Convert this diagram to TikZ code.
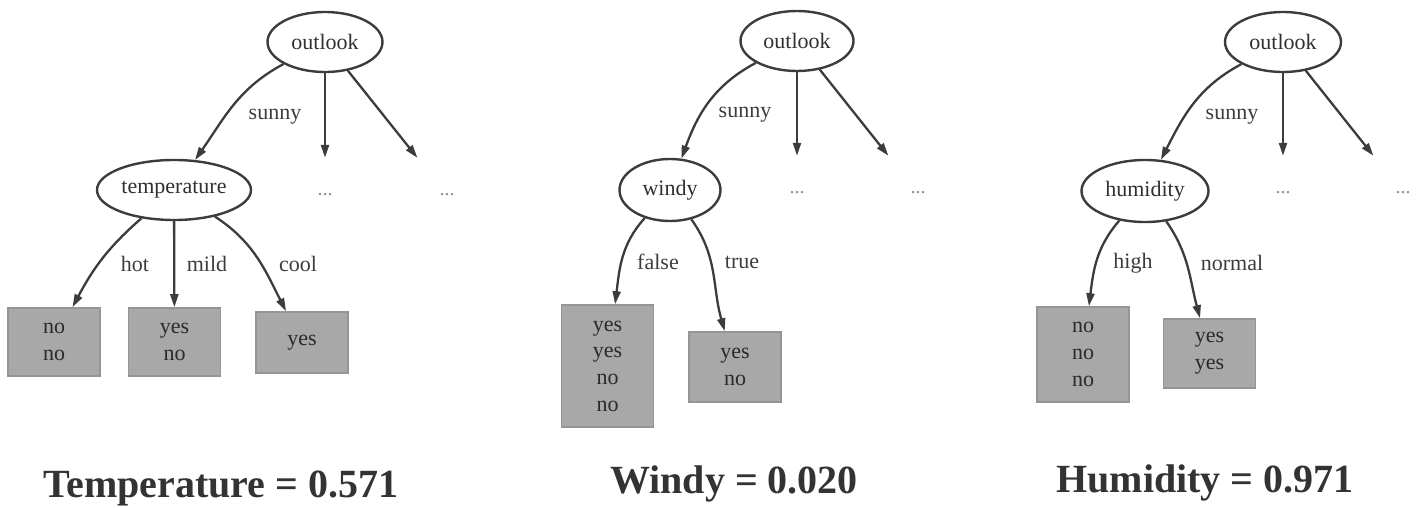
\documentclass[tikz,border=0pt]{standalone}
\usepackage{fontspec}
\setmainfont{Liberation Serif}
\usetikzlibrary{shapes.geometric,arrows.meta}
\definecolor{ink}{HTML}{3C3C3C}
\definecolor{leafgray}{HTML}{A8A8A8}
\definecolor{leafedge}{HTML}{959595}
\definecolor{leaftext}{HTML}{2A2A2A}
\definecolor{dotgray}{HTML}{8C8C8C}
\definecolor{scoretext}{HTML}{333333}
\tikzset{
  attr/.style={ellipse, draw=ink, line width=2.4pt, inner sep=0pt, minimum height=60pt, text=ink!80!black, font=\fontsize{22}{26.7}\selectfont},
  leaf/.style={rectangle, draw=leafedge, fill=leafgray, line width=1.6pt, minimum width=92pt, inner sep=2pt, align=center, text=leaftext, font=\fontsize{22}{26.7}\selectfont},
  more/.style={minimum width=64pt, minimum height=74pt, inner sep=0pt, text=dotgray, font=\fontsize{20}{24}\selectfont},
  branch/.style={draw=ink, line width=2.3pt, -{Triangle[length=13pt,width=8pt]}},
  lab/.style={text=ink, font=\fontsize{22}{26.7}\selectfont},
  score/.style={anchor=base, text=scoretext, font=\bfseries\fontsize{40}{42}\selectfont},
}

\begin{document}
\begin{tikzpicture}[x=1pt,y=1pt]
  \useasboundingbox (0,0) rectangle (1425,-508);

  % temperature split
  \node[attr, minimum width=115pt] (outA) at (325,-42) {outlook};
  \node[attr, minimum width=154pt] (tempA) at (174,-190) {temperature};
  \node[more] (moreA1) at (325,-195) {...};
  \node[more] (moreA2) at (447,-195) {...};
  \node[leaf, minimum height=68pt] (hotA) at (54,-342) {no\\no};
  \node[leaf, minimum height=68pt] (mildA) at (174.5,-342) {yes\\no};
  \node[leaf, minimum height=61pt] (coolA) at (302,-342.5) {yes};

  \draw[branch] (outA) to[out=208,in=55] (tempA);
  \draw[branch] (outA) -- (moreA1);
  \draw[branch] (outA) -- (moreA2);
  \draw[branch] (tempA) to[out=221,in=62] (hotA);
  \draw[branch] (tempA) -- (mildA);
  \draw[branch] (tempA) to[out=-33,in=117] (coolA);

  \node[lab] (sunA) at (275,-117) {sunny};
  \node[lab] (hotlab) at (135,-264) {hot};
  \node[lab] (mildlab) at (207,-264) {mild};
  \node[lab] (coollab) at (298,-264) {cool};

  % windy split
  \node[attr, minimum width=113pt] (outB) at (797,-41) {outlook};
  \node[attr, minimum width=101pt, minimum height=62pt] (windB) at (670,-190) {windy};
  \node[more] (moreB1) at (797,-193) {...};
  \node[more] (moreB2) at (918,-193) {...};
  \node[leaf, minimum height=122pt] (falseB) at (607.5,-366) {yes\\yes\\no\\no};
  \node[leaf, minimum height=70pt] (trueB) at (735,-367) {yes\\no};

  \draw[branch] (outB) to[out=208,in=70] (windB);
  \draw[branch] (outB) -- (moreB1);
  \draw[branch] (outB) -- (moreB2);
  \draw[branch] (windB) to[out=228,in=83] (falseB);
  \draw[branch] (windB) to[out=-54,in=106] (trueB);

  \node[lab] (sunB) at (745,-115) {sunny};
  \node[lab] (falselab) at (658,-262) {false};
  \node[lab] (truelab) at (742,-262) {true};

  % humidity split
  \node[attr, minimum width=116pt] (outC) at (1283,-42) {outlook};
  \node[attr, minimum width=127pt, minimum height=62pt] (humC) at (1145,-191) {humidity};
  \node[more] (moreC1) at (1283,-193) {...};
  \node[more] (moreC2) at (1403,-193) {...};
  \node[leaf, minimum height=95pt] (highC) at (1083,-354.5) {no\\no\\no};
  \node[leaf, minimum height=69pt] (normC) at (1209.5,-353.5) {yes\\yes};

  \draw[branch] (outC) to[out=208,in=63] (humC);
  \draw[branch] (outC) -- (moreC1);
  \draw[branch] (outC) -- (moreC2);
  \draw[branch] (humC) to[out=229,in=83] (highC);
  \draw[branch] (humC) to[out=-55,in=105] (normC);

  \node[lab] (sunC) at (1232,-117) {sunny};
  \node[lab] (highlab) at (1133,-263) {high};
  \node[lab] (normlab) at (1232,-263) {normal};

  % gains
  \node[score] (gainA) at (221,-497) {Temperature = 0.571};
  \node[score] (gainB) at (734,-493) {Windy = 0.020};
  \node[score] (gainC) at (1205,-492) {Humidity = 0.971};
\end{tikzpicture}
\end{document}
